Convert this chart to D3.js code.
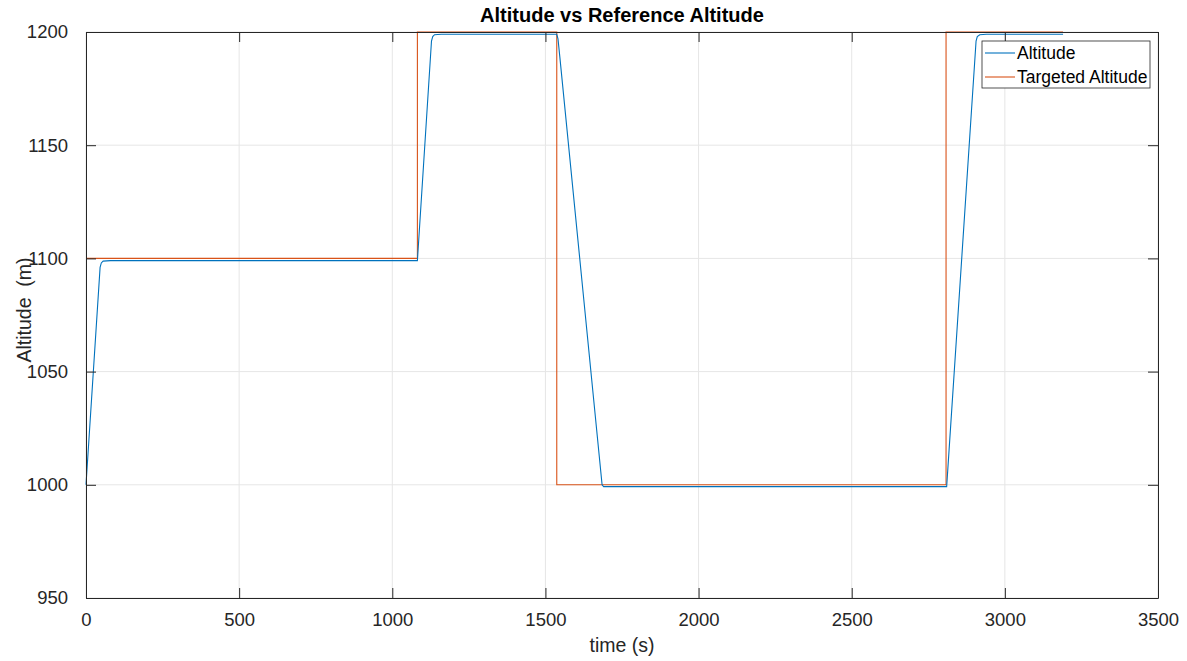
<!DOCTYPE html>
<html>
<head>
<meta charset="utf-8">
<script src="https://cdn.jsdelivr.net/npm/d3@7"></script>
<style>
  body { margin: 0; background: #fff; }
  svg { display: block; font-family: "Liberation Sans", Arial, Helvetica, sans-serif; }
</style>
</head>
<body>
<div id="chart"></div>
<script>
// Altitude response (blue)
const altTime = [0, 46, 50, 56, 80, 1082, 1128, 1132, 1138, 1160, 1537, 1541, 1547, 1685, 1690, 2810, 2906, 2910, 2918, 2940, 3190];
const altitude = [1000, 1096, 1098, 1098.8, 1099, 1099, 1196, 1198, 1198.8, 1199, 1199, 1197, 1189, 1000, 999.2, 999.2, 1196, 1198, 1198.8, 1199, 1199];

// Targeted altitude (orange step)
const refTime = [0, 1082, 1082, 1537, 1537, 2808, 2808, 3190];
const refAltitude = [1100, 1100, 1200, 1200, 1000, 1000, 1200, 1200];

const xTicks = [0, 500, 1000, 1500, 2000, 2500, 3000, 3500];
const yTicks = [950, 1000, 1050, 1100, 1150, 1200];
const seriesNames = ["Altitude", "Targeted Altitude"];
const colors = ["#0072BD", "#D95319"];

const W = 1187, H = 661;
const margin = { top: 32, right: 29, bottom: 63, left: 86 };
const width = W - margin.left - margin.right;
const height = H - margin.top - margin.bottom;

const svg = d3.select("#chart").append("svg")
    .attr("width", W)
    .attr("height", H);

svg.append("rect").attr("width", W).attr("height", H).attr("fill", "#fff");

const g = svg.append("g")
    .attr("transform", `translate(${margin.left},${margin.top})`);

const x = d3.scaleLinear().domain([0, 3500]).range([0, width]);
const y = d3.scaleLinear().domain([950, 1200]).range([height, 0]);

// grid
g.append("g").selectAll("line")
    .data(xTicks)
    .join("line")
    .attr("x1", d => x(d)).attr("x2", d => x(d))
    .attr("y1", 0).attr("y2", height)
    .attr("stroke", "#e6e6e6");

g.append("g").selectAll("line")
    .data(yTicks)
    .join("line")
    .attr("y1", d => y(d)).attr("y2", d => y(d))
    .attr("x1", 0).attr("x2", width)
    .attr("stroke", "#e6e6e6");

// lines
const altLine = d3.line().x(d => x(d[0])).y(d => y(d[1]));

g.append("path")
    .datum(refTime.map((t, i) => [t, refAltitude[i]]))
    .attr("fill", "none")
    .attr("stroke", colors[1])
    .attr("stroke-width", 1.1)
    .attr("d", altLine);

g.append("path")
    .datum(altTime.map((t, i) => [t, altitude[i]]))
    .attr("fill", "none")
    .attr("stroke", colors[0])
    .attr("stroke-width", 1.1)
    .attr("d", altLine);

// axes, ticks pointing inward
const fmt = d3.format("d");

function styleAxis(sel) {
    sel.select(".domain").attr("stroke", "#262626");
    sel.selectAll(".tick line").attr("stroke", "#262626");
    sel.selectAll(".tick text")
        .attr("fill", "#262626")
        .style("font-size", "18.5px");
}

g.append("g")
    .attr("transform", `translate(0,${height})`)
    .call(d3.axisBottom(x).tickValues(xTicks).tickFormat(fmt).tickSizeInner(-10).tickSizeOuter(0).tickPadding(15))
    .call(styleAxis);

g.append("g")
    .call(d3.axisTop(x).tickValues(xTicks).tickSizeInner(-10).tickSizeOuter(0).tickFormat(""))
    .call(styleAxis);

g.append("g")
    .call(d3.axisLeft(y).tickValues(yTicks).tickFormat(fmt).tickSizeInner(-10).tickSizeOuter(0).tickPadding(18))
    .call(styleAxis);

g.append("g")
    .attr("transform", `translate(${width},0)`)
    .call(d3.axisRight(y).tickValues(yTicks).tickSizeInner(-10).tickSizeOuter(0).tickFormat(""))
    .call(styleAxis);

// title and labels
svg.append("text")
    .attr("x", margin.left + width / 2)
    .attr("y", 22)
    .attr("text-anchor", "middle")
    .style("font-size", "20px")
    .style("font-weight", "bold")
    .attr("fill", "#000")
    .text("Altitude vs Reference Altitude");

svg.append("text")
    .attr("x", margin.left + width / 2)
    .attr("y", 652)
    .attr("text-anchor", "middle")
    .style("font-size", "19.5px")
    .attr("fill", "#262626")
    .text("time (s)");

svg.append("text")
    .attr("transform", `translate(31,${margin.top + height / 2 - 5}) rotate(-90)`)
    .attr("text-anchor", "middle")
    .style("font-size", "19.5px")
    .attr("fill", "#262626")
    .text("Altitude\u00a0\u00a0(m)");

// legend
const legend = svg.append("g").attr("transform", "translate(982,41)");
legend.append("rect")
    .attr("width", 168).attr("height", 47)
    .attr("fill", "#fff")
    .attr("stroke", "#262626")
    .attr("stroke-width", 0.8);

const rows = legend.selectAll(".row")
    .data(seriesNames)
    .join("g")
    .attr("class", "row")
    .attr("transform", (d, i) => `translate(0,${12 + i * 24})`);

rows.append("line")
    .attr("x1", 3).attr("x2", 33)
    .attr("stroke", (d, i) => colors[i])
    .attr("stroke-width", 1.1);

rows.append("text")
    .attr("x", 35)
    .attr("dy", "0.35em")
    .style("font-size", "17.5px")
    .attr("fill", "#000")
    .text(d => d);
</script>
</body>
</html>
